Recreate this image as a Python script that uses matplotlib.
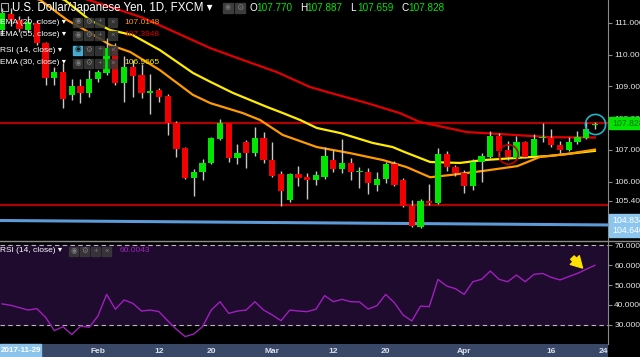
import numpy as np
import matplotlib
matplotlib.use("Agg")
import matplotlib.pyplot as plt
from matplotlib.patches import Rectangle
from matplotlib.transforms import blended_transform_factory

plt.rcParams['font.family'] = ['Liberation Sans', 'DejaVu Sans']

# USD/JPY diario, 17 jan a 23 abr 2018
opens = [110.78, 111.28, 111.08, 110.78, 111.00, 110.36, 109.27, 109.45, 108.72, 109.00,
         108.78, 109.22, 109.41, 110.19, 109.09, 109.62, 109.36, 108.80, 108.88, 108.69,
         107.86, 107.05, 106.13, 106.32, 106.60, 107.33, 107.84, 106.76, 107.24, 106.91,
         107.37, 106.68, 106.23, 105.42, 106.23, 106.14, 106.05, 106.16, 106.68, 106.39,
         106.59, 106.30, 106.32, 105.90, 106.08, 106.56, 106.05, 105.25, 104.58, 105.39,
         105.32, 106.87, 106.45, 106.26, 105.86, 106.61, 106.79, 107.43, 106.99, 106.74,
         107.24, 106.81, 107.36, 107.37, 107.16, 107.00, 107.24, 107.38, 107.770]
highs = [111.45, 111.45, 111.20, 111.20, 111.10, 110.40, 109.60, 109.73, 109.23, 109.23,
         109.51, 109.51, 110.51, 110.36, 109.95, 109.83, 109.70, 109.38, 108.95, 108.75,
         107.90, 107.10, 106.40, 106.70, 107.40, 107.96, 107.86, 107.18, 107.30, 107.73,
         107.55, 107.26, 106.34, 106.26, 106.49, 106.26, 106.35, 107.10, 106.99, 107.33,
         106.76, 106.45, 106.42, 106.32, 106.63, 106.66, 106.12, 105.43, 105.47, 105.92,
         107.05, 106.98, 106.52, 106.36, 106.70, 106.89, 107.58, 107.53, 107.28, 107.45,
         107.29, 107.50, 107.86, 107.65, 107.27, 107.42, 107.58, 107.89, 107.887]
lows = [110.60, 110.90, 110.70, 110.70, 110.30, 109.04, 109.04, 108.33, 108.57, 108.48,
        108.65, 109.14, 109.35, 109.04, 108.50, 108.67, 108.63, 108.12, 108.50, 107.47,
        106.77, 106.08, 105.56, 106.05, 106.55, 107.30, 106.63, 106.55, 106.42, 106.82,
        106.60, 106.15, 105.25, 105.35, 105.86, 105.45, 105.90, 106.10, 106.30, 106.28,
        106.05, 105.79, 105.60, 105.72, 105.95, 105.85, 105.20, 104.58, 104.55, 105.28,
        105.30, 106.33, 106.18, 105.66, 105.73, 106.00, 106.75, 106.78, 106.68, 106.68,
        106.74, 106.78, 107.24, 107.10, 106.90, 106.96, 107.20, 107.35, 107.659]
closes = [111.30, 111.08, 110.80, 111.02, 110.36, 109.26, 109.45, 108.60, 109.00, 108.78,
          109.23, 109.44, 110.19, 109.09, 109.62, 109.32, 108.78, 108.84, 108.67, 107.84,
          107.03, 106.13, 106.30, 106.59, 107.37, 107.84, 106.76, 106.89, 106.89, 107.37,
          106.68, 106.19, 105.71, 106.23, 106.13, 106.05, 106.20, 106.82, 106.39, 106.59,
          106.31, 106.33, 105.95, 106.10, 106.56, 105.90, 105.23, 104.62, 105.39, 105.32,
          106.87, 106.45, 106.26, 105.86, 106.63, 106.81, 107.43, 106.96, 106.78, 107.24,
          106.79, 107.35, 107.38, 107.14, 107.00, 107.26, 107.40, 107.66, 107.828]

rsi = [40.5, 39.8, 38.6, 37.4, 38.1, 33.7, 27.0, 29.0, 25.0, 29.3,
       28.7, 34.4, 45.3, 37.8, 42.5, 40.8, 36.9, 37.4, 36.6, 32.0,
       27.7, 24.0, 25.3, 29.0, 37.4, 41.6, 35.7, 36.9, 37.4, 41.6,
       37.4, 34.9, 32.0, 37.4, 36.9, 36.6, 37.8, 44.7, 41.6, 42.8,
       41.6, 41.5, 37.9, 39.6, 45.3, 41.1, 34.9, 31.9, 39.4, 39.1,
       52.9, 49.5, 48.2, 45.3, 51.7, 52.9, 57.1, 52.9, 51.7, 55.1,
       51.7, 55.4, 55.9, 53.9, 52.6, 54.3, 55.9, 58.0, 60.0]

# medias moveis (indice da barra, preco)
ema20_x = [0, 4.4, 7.5, 10.1, 12.4, 14.7, 18.1, 20.1, 21.9, 23.9, 27.6, 29.6, 32.2, 36.1,
           39.9, 43.7, 46.4, 49.1, 51.4, 55.2, 59.1, 61.7, 64.8, 68]
ema20_y = [112.1, 111.71, 111.08, 110.68, 110.30, 110.08, 109.51, 109.10, 108.73, 108.47,
           108.16, 107.94, 107.47, 107.09, 106.90, 106.68, 106.46, 106.14, 106.21, 106.34,
           106.49, 106.78, 106.87, 107.01]
ema30_x = [0, 3.5, 7.2, 10.1, 12.4, 15.0, 18.1, 21.9, 23.9, 26.5, 30.4, 32.2, 34.2, 36.1,
           38.8, 42.5, 44.8, 46.2, 49.1, 52.5, 55.2, 59.1, 62.8, 68]
ema30_y = [112.4, 112.1, 111.71, 111.08, 110.77, 110.61, 110.14, 109.42, 109.14, 108.79,
           108.35, 108.16, 107.94, 107.69, 107.53, 107.22, 107.09, 106.93, 106.62, 106.59,
           106.68, 106.75, 106.81, 106.97]
ema55_x = [0, 6, 12.4, 16.2, 20.1, 23.9, 27.6, 31.5, 35.3, 37.3, 41.9, 45.6, 47.9, 53.3,
           57.1, 62.8, 68]
ema55_y = [112.55, 112.05, 111.50, 111.15, 110.67, 110.20, 109.83, 109.45, 108.98, 108.82,
           108.47, 108.16, 107.88, 107.56, 107.50, 107.40, 107.39]

date_ticks = [11, 18, 24, 31, 38, 44, 53, 63, 69]
date_labels = ['Feb', '12', '20', 'Mar', '12', '20', 'Apr', '16', '24']
price_ticks = [111, 110, 109, 108, 107, 106, 105.4]
rsi_ticks = [70, 60, 50, 40, 30]
levels = [107.85, 105.28]
trend_y = [104.78, 104.64]
ema_last = {'EMA (20, close)': (107.0148, '#ff9a00'),
            'EMA (55, close)': (107.3948, '#e00000'),
            'EMA (30, close)': (106.9665, '#ffec00')}
rsi_last = 60.0043

W, H = 640, 357
def box(x0, y0, x1, y1):
    return [x0 / W, 1 - y1 / H, (x1 - x0) / W, (y1 - y0) / H]

fig = plt.figure(figsize=(6.4, 3.57), dpi=100, facecolor='black')
ax = fig.add_axes(box(0, 0, 608, 240), facecolor='black')
axr = fig.add_axes(box(0, 241, 608, 344), facecolor='black', sharex=ax)
axd = fig.add_axes(box(0, 344, 608, 357), facecolor='#384866', sharex=ax)

idx = np.arange(len(opens))
o, h, l, c = map(np.array, (opens, highs, lows, closes))
up = c >= o

# niveis e linha de tendencia
for lv in levels:
    ax.axhline(lv, color='#b00000', lw=1.6, zorder=1)
ax.plot([-0.3, 69.6], trend_y, color='#5d9ad8', lw=2.2, zorder=1)

ax.plot(ema55_x, ema55_y, color='#e00000', lw=1.6, zorder=2)
ax.plot(ema30_x, ema30_y, color='#ffec00', lw=1.6, zorder=2)
ax.plot(ema20_x, ema20_y, color='#ff9a00', lw=1.6, zorder=2)

ax.vlines(idx, l, h, color='#c8c8c8', lw=1, zorder=3)
ax.bar(idx, np.maximum(np.abs(c - o), 0.035), bottom=np.minimum(o, c), width=0.72,
       color=np.where(up, '#00e600', '#f00000'), zorder=4)

# marcacoes
ax.plot(68, closes[-1], marker='o', ms=14.5, mfc='none', mec='#1fb5c8', mew=1.2, zorder=5)
ax.plot(58, 106.87, marker='o', ms=14, mfc='none', mec='#c00000', mew=1.2, zorder=5)

ax.set_xlim(-0.23, 69.5)
ax.set_ylim(104.167, 111.714)
ax.yaxis.tick_right()
ax.set_yticks(price_ticks)
ax.set_yticklabels([f'{t:.4f}' for t in price_ticks])

# RSI
axr.axhspan(30, 70, color='#1e0b2d', zorder=0)
for lv in (70, 30):
    axr.axhline(lv, color='#b8b8b8', lw=0.8, ls=(0, (4, 3)), zorder=1)
axr.plot(idx, rsi, color='#a01fbe', lw=1, zorder=2)
axr.annotate('', xy=(66.8, 57.6), xytext=(65.2, 64.9),
             arrowprops=dict(arrowstyle='simple,head_width=0.9,head_length=0.8,tail_width=0.35',
                             color='#ffe000', mutation_scale=10), zorder=3)
axr.set_ylim(20.25, 72.27)
axr.yaxis.tick_right()
axr.set_yticks(rsi_ticks)
axr.set_yticklabels([f'{t:.4f}' for t in rsi_ticks])

for a in (ax, axr):
    for s in ('top', 'left', 'bottom'):
        a.spines[s].set_visible(False)
    a.spines['right'].set_color('#8a8a8a')
    a.tick_params(axis='y', colors='#8a8a8a', labelcolor='#e6e6e6', labelsize=6,
                  length=3, pad=1.5)
    a.tick_params(axis='x', bottom=False, labelbottom=False)

for s in axd.spines.values():
    s.set_visible(False)
axd.set_yticks([])
axd.tick_params(axis='x', bottom=False, labelbottom=False)
tr = blended_transform_factory(axd.transData, axd.transAxes)
for t, lab in zip(date_ticks, date_labels):
    axd.text(t, 0.45, lab, transform=tr, ha='center', va='center', fontsize=6,
             color='#dde3ee', fontweight='bold')

# camada de textos em pixels
ov = fig.add_axes([0, 0, 1, 1], facecolor='none')
ov.set_xlim(0, W)
ov.set_ylim(H, 0)
ov.axis('off')
ov.axhline(240.5, color='#8a8a8a', lw=1)

ov.add_patch(Rectangle((1, 3), 7, 8, fill=False, ec='#aaaaaa', lw=0.8))
ov.text(12, 8, 'U.S. Dollar/Japanese Yen, 1D, FXCM \u25be', color='white', fontsize=8.3,
        va='center')
for x0 in (223, 235):
    ov.add_patch(Rectangle((x0, 3), 10, 10, color='#3c3c3c'))
ov.text(228, 8, '\u25c9', color='#777777', fontsize=5, ha='center', va='center')
ov.text(240, 8, '\u2699', color='#777777', fontsize=6, ha='center', va='center')
ohlc_names = ['O', 'H', 'L', 'C']
ohlc_vals = [opens[-1], highs[-1], lows[-1], closes[-1]]
for k, (nm, v) in enumerate(zip(ohlc_names, ohlc_vals)):
    x0 = 249 + k * 50.7
    ov.text(x0, 8, nm, color='white', fontsize=7.2, va='center')
    ov.text(x0 + 7, 8, f'{v:.3f}', color='#00e600', fontsize=7.2, va='center')

def icons(y, first='#3a3a3a', xs=(73, 84, 95, 108)):
    syms = ['\u25c9', '\u2699', '+', '\u00d7']
    for k, (x0, sy) in enumerate(zip(xs, syms)):
        col = first if k == 0 else '#3a3a3a'
        ov.add_patch(Rectangle((x0, y - 4.5), 9, 9, color=col, alpha=0.85, zorder=5))
        ov.text(x0 + 4.5, y, sy, color='#1a1a1a' if k == 0 and first != '#3a3a3a' else '#7a7a7a',
                fontsize=5.5, ha='center', va='center', zorder=6)

rows = [('EMA (20, close)', 22), ('EMA (55, close)', 35), ('RSI (14, close)', 50),
        ('EMA (30, close)', 63)]
for name, y in rows:
    ov.text(0, y, name + ' \u25be', color='white', fontsize=6, va='center', zorder=6)
    icons(y, first='#4fc3ee' if name.startswith('RSI') else '#3a3a3a')
    if name in ema_last:
        v, col = ema_last[name]
        ov.text(124, y, f'{v:.4f}', color=col, fontsize=6, va='center', zorder=6)

ov.text(0, 251, 'RSI (14, close) \u25be', color='white', fontsize=6, va='center', zorder=6)
icons(251, xs=(69, 80, 91, 102))
ov.text(120, 251, f'{rsi_last:.4f}', color='#a01fbe', fontsize=6, va='center', zorder=6)

# etiquetas do eixo de precos
ov.add_patch(Rectangle((609, 117), 31, 12, color='#00e600', zorder=7))
ov.text(612, 123, f'{closes[-1]:.3f}', color='#0b6b0b', fontsize=6.3, va='center', zorder=8)
ov.add_patch(Rectangle((609, 214), 31, 23, color='#8cc6ee', zorder=7))
ov.text(612, 220.5, '104.834', color='white', fontsize=6.3, va='center', zorder=8)
ov.text(612, 230.5, '104.640', color='white', fontsize=6.3, va='center', zorder=8)

ov.add_patch(Rectangle((0, 344), 41, 13, color='#8cc4ec', zorder=7))
ov.text(20.5, 350.5, '2017-11-29', color='white', fontsize=5.8, fontweight='bold',
        ha='center', va='center', zorder=8)

fig.savefig('out.png', dpi=100, facecolor='black')
